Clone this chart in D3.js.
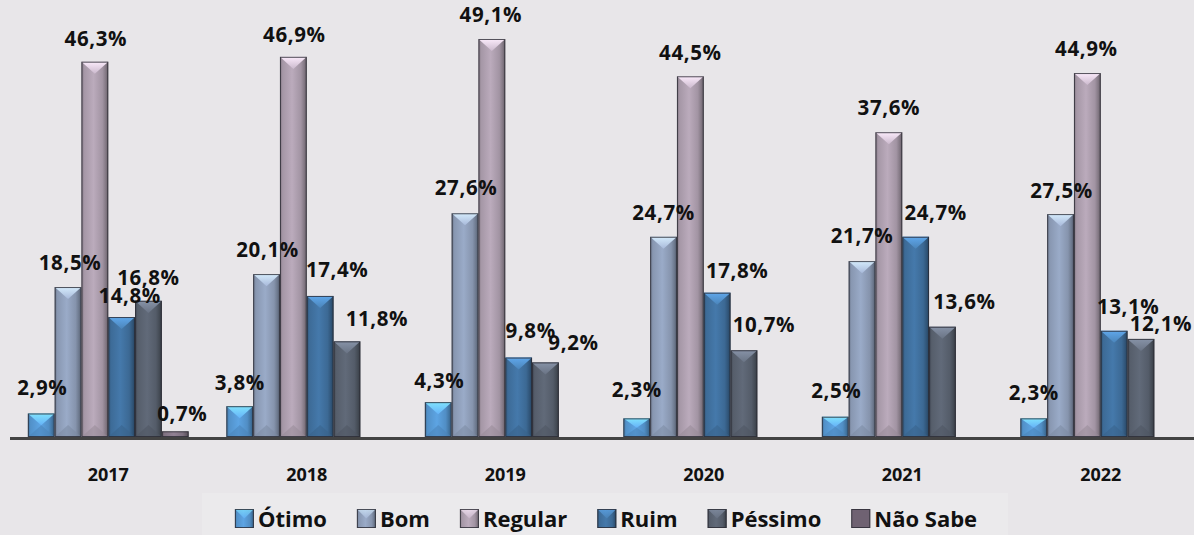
<!DOCTYPE html>
<html>
<head>
<meta charset="utf-8">
<script src="https://cdn.jsdelivr.net/npm/d3@7"></script>
<style>
  html, body { margin: 0; padding: 0; background: #e8e6e9; }
  svg { display: block; }
  text { font-family: "Open Sans", "DejaVu Sans", sans-serif; font-weight: 700; fill: #111; }
</style>
</head>
<body>
<svg id="chart" width="1194" height="535"></svg>
<script>
// Categories and series
const years = ["2017", "2018", "2019", "2020", "2021", "2022"];
const seriesNames = ["Ótimo", "Bom", "Regular", "Ruim", "Péssimo", "Não Sabe"];

// Percentages per series, one value per year (null = no bar)
const otimo   = [2.9, 3.8, 4.3, 2.3, 2.5, 2.3];
const bom     = [18.5, 20.1, 27.6, 24.7, 21.7, 27.5];
const regular = [46.3, 46.9, 49.1, 44.5, 37.6, 44.9];
const ruim    = [14.8, 17.4, 9.8, 17.8, 24.7, 13.1];
const pessimo = [16.8, 11.8, 9.2, 10.7, 13.6, 12.1];
const naoSabe = [0.7, null, null, null, null, null];

const seriesValues = [otimo, bom, regular, ruim, pessimo, naoSabe];

// Series fill colours
const seriesColors = ["#5596d0", "#8d9cb7", "#ab9cac", "#3f6f9c", "#59616f", "#857687"];

// Small label nudges (dx, dy) per year, per series
const labelDx = [
  [1, 2, 1, 8, 0, 7],
  [0, 1, 1, 17, 30, 0],
  [1, 1, -1, 12, 28, 0],
  [0, 0, 0, 20, 20, 0],
  [1, 0, 0, 20, 22, 0],
  [0, 1, -1, 14, 20, 0]
];
const labelDy = [
  [-2, -1, 0, 2, 0, 6],
  [0, -1, 1, -3, 1, 0],
  [2, -2, -1, -4, 4, 0],
  [-5, -1, 0, 1, -2, 0],
  [-3, -2, -1, -1, -2, 0],
  [-2, 0, -1, -1, 8, 0]
];

const svg = d3.select("#chart");
const W = 1194, H = 535;
const baseY = 437;

const x0 = d3.scaleBand().domain(years).range([9, 1200])
  .paddingInner(0.19).paddingOuter(0.095);
const x1 = d3.scaleBand().domain(seriesNames).range([0, x0.bandwidth()]);
const y = d3.scaleLinear().domain([0, 50]).range([baseY, baseY - 405.3]);

const fmt = v => d3.format(".1f")(v).replace(".", ",") + "%";

// Gradients giving each bar its bevelled look
const defs = svg.append("defs");
seriesColors.forEach((c, i) => {
  const base = d3.color(c);
  const g = defs.append("linearGradient").attr("id", "body" + i)
    .attr("x1", 0).attr("x2", 1).attr("y1", 0).attr("y2", 0);
  [[0, base.darker(0.8)], [0.1, base.darker(0.1)], [0.45, base.brighter(0.25)],
   [0.78, base.darker(0.15)], [0.9, base.darker(0.7)], [1, base.darker(1.4)]]
    .forEach(([o, col]) => g.append("stop").attr("offset", o).attr("stop-color", col));
  const t = defs.append("linearGradient").attr("id", "top" + i)
    .attr("x1", 0).attr("x2", 0).attr("y1", 0).attr("y2", 1);
  t.append("stop").attr("offset", 0).attr("stop-color", base.brighter(1.2));
  t.append("stop").attr("offset", 1).attr("stop-color", base.brighter(0.5));
});

// Background of the legend strip
svg.append("rect")
  .attr("x", 202).attr("y", 493).attr("width", 806).attr("height", 42)
  .attr("fill", "#ebeaec");

// Bars
const bars = [];
years.forEach((yr, yi) => {
  seriesNames.forEach((s, si) => {
    const v = seriesValues[si][yi];
    if (v == null) return;
    bars.push({ yr, yi, s, si, v });
  });
});

const barG = svg.append("g");
bars.forEach(d => {
  const bx = x0(d.yr) + x1(d.s);
  const bw = x1.bandwidth();
  const ty = y(d.v);
  const h = baseY - ty;
  const g = barG.append("g");
  g.append("rect").attr("x", bx).attr("y", ty).attr("width", bw).attr("height", h)
    .attr("fill", `url(#body${d.si})`);
  const bev = Math.min(bw * 0.45, h / 2);
  if (h > 8) {
    // top facet
    g.append("path")
      .attr("d", `M${bx},${ty}L${bx + bw},${ty}L${bx + bw / 2},${ty + bev}Z`)
      .attr("fill", `url(#top${d.si})`).attr("opacity", 0.95);
    // bottom facet
    g.append("path")
      .attr("d", `M${bx},${baseY}L${bx + bw},${baseY}L${bx + bw / 2},${baseY - bev}Z`)
      .attr("fill", d3.color(seriesColors[d.si]).darker(0.35)).attr("opacity", 0.55);
  }
  g.append("rect").attr("x", bx + 0.5).attr("y", ty + 0.5)
    .attr("width", bw - 1).attr("height", Math.max(0, h - 1))
    .attr("fill", "none").attr("stroke", "#2b2b33").attr("stroke-opacity", 0.8)
    .attr("stroke-width", 1);
});

// Category axis line
svg.append("line").attr("x1", 10).attr("x2", W).attr("y1", baseY + 1.5).attr("y2", baseY + 1.5)
  .attr("stroke", "#434343").attr("stroke-width", 3);

// Year labels
svg.append("g").selectAll("text").data(years).join("text")
  .attr("x", d => x0(d) + x0.bandwidth() / 2)
  .attr("y", 481)
  .attr("text-anchor", "middle")
  .attr("font-size", 18)
  .text(d => d);

// Value labels
svg.append("g").selectAll("text").data(bars).join("text")
  .attr("x", d => x0(d.yr) + x1(d.s) + x1.bandwidth() / 2 + labelDx[d.yi][d.si])
  .attr("y", d => y(d.v) - 16 + labelDy[d.yi][d.si])
  .attr("text-anchor", "middle")
  .attr("font-size", 20.5)
  .attr("letter-spacing", 0.6)
  .text(d => fmt(d.v));

// Legend
const legend = svg.append("g");
const items = legend.selectAll("g").data(seriesNames).join("g");
items.append("text")
  .attr("font-size", 22)
  .attr("y", 527)
  .text(d => d);
const widths = [];
items.select("text").each(function () { widths.push(this.getComputedTextLength()); });
const mk = 19, mkGap = 4, itemGap = 30;
const total = d3.sum(widths) + seriesNames.length * (mk + mkGap) + (seriesNames.length - 1) * itemGap;
let cx = 606 - total / 2;
items.each(function (d, i) {
  const g = d3.select(this);
  const mx = cx;
  if (i < 5) {
    g.append("rect").attr("x", mx).attr("y", 509).attr("width", mk).attr("height", mk)
      .attr("fill", `url(#body${i})`);
    g.append("path")
      .attr("d", `M${mx},509L${mx + mk},509L${mx + mk / 2},${509 + mk / 2}Z`)
      .attr("fill", `url(#top${i})`).attr("opacity", 0.7);
  } else {
    g.append("rect").attr("x", mx).attr("y", 509).attr("width", mk).attr("height", mk)
      .attr("fill", "#6f6272");
  }
  g.append("rect").attr("x", mx + 0.5).attr("y", 509.5).attr("width", mk - 1).attr("height", mk - 1)
    .attr("fill", "none").attr("stroke", "#2b2b33").attr("stroke-opacity", 0.8);
  g.select("text").attr("x", mx + mk + mkGap).raise();
  cx += mk + mkGap + widths[i] + itemGap;
});
</script>
</body>
</html>
